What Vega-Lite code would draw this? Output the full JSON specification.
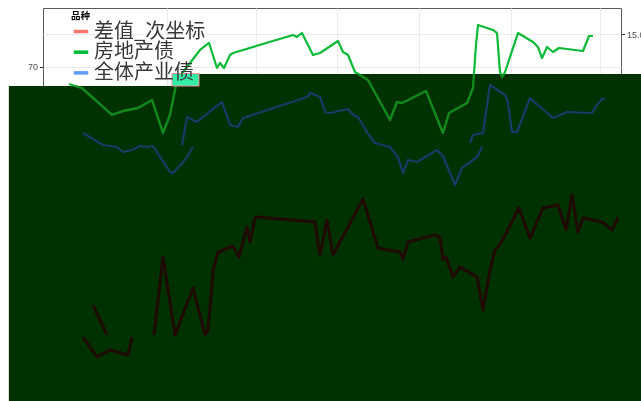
{
  "$schema": "https://vega.github.io/schema/vega-lite/v6.json",
  "width": 578,
  "height": 366,
  "autosize": {"type": "none"},
  "padding": {"left": 43, "top": 8, "right": 20, "bottom": 27},
  "background": "white",
  "config": {
    "view": {"stroke": "#5a5a5a", "strokeWidth": 1},
    "axis": {"zindex": 0, "domain": false, "labelFont": "Liberation Sans", "labelFontSize": 9, "labelColor": "#4d4d4d", "tickColor": "#333333", "tickSize": 3.5, "labelPadding": 2, "gridColor": "#ebebeb", "gridWidth": 1},
    "legend": {"orient": "none", "legendX": 28, "legendY": 3, "padding": 0, "titleFont": "Noto Sans CJK SC", "titleFontSize": 9.5, "titleFontWeight": "bold", "titleColor": "#000000", "titlePadding": 1, "labelFont": "Noto Sans CJK SC", "labelFontSize": 20, "labelColor": "#383838", "labelOffset": 3, "symbolType": "stroke", "symbolSize": 210, "symbolStrokeWidth": 3.5, "rowPadding": 0.7, "labelLimit": 400, "zindex": 1}
  },
  "datasets": {
    "lines": [
      {"品种":"房地产债","段":1,"t":0,"值":67.42},{"品种":"房地产债","段":1,"t":4.45,"值":66.82},{"品种":"房地产债","段":1,"t":14.73,"值":62.73},{"品种":"房地产债","段":1,"t":18.49,"值":63.33},{"品种":"房地产债","段":1,"t":23.63,"值":63.79},{"品种":"房地产债","段":1,"t":28.42,"值":65.0},{"品种":"房地产债","段":1,"t":32.19,"值":60.0},{"品种":"房地产债","段":1,"t":34.59,"值":62.73},{"品种":"房地产债","段":1,"t":36.99,"值":68.03},{"品种":"房地产债","段":1,"t":44.86,"值":72.58},{"品种":"房地产债","段":1,"t":47.95,"值":73.64},{"品种":"房地产债","段":1,"t":50.68,"值":69.85},{"品种":"房地产债","段":1,"t":51.71,"值":70.61},{"品种":"房地产债","段":1,"t":53.08,"值":69.85},{"品种":"房地产债","段":1,"t":55.14,"值":71.82},{"品种":"房地产债","段":1,"t":56.16,"值":72.12},{"品种":"房地产债","段":1,"t":76.71,"值":74.85},{"品种":"房地产债","段":1,"t":78.08,"值":74.55},{"品种":"房地产债","段":1,"t":79.79,"值":75.15},{"品种":"房地产债","段":1,"t":83.56,"值":71.82},{"品种":"房地产债","段":1,"t":85.96,"值":72.12},{"品种":"房地产债","段":1,"t":92.12,"值":73.94},{"品种":"房地产债","段":1,"t":93.84,"值":72.27},{"品种":"房地产债","段":1,"t":95.55,"值":71.82},{"品种":"房地产债","段":1,"t":97.95,"值":69.24},{"品种":"房地产债","段":1,"t":102.4,"值":68.03},{"品种":"房地产债","段":1,"t":109.93,"值":61.97},{"品种":"房地产债","段":1,"t":112.33,"值":64.7},{"品种":"房地产债","段":1,"t":114.04,"值":64.55},{"品种":"房地产债","段":1,"t":122.26,"值":66.36},{"品种":"房地产债","段":1,"t":128.08,"值":60.0},{"品种":"房地产债","段":1,"t":130.14,"值":63.03},{"品种":"房地产债","段":1,"t":136.3,"值":64.55},{"品种":"房地产债","段":1,"t":138.36,"值":66.82},{"品种":"房地产债","段":1,"t":139.38,"值":73.33},{"品种":"房地产债","段":1,"t":140.07,"值":76.36},{"品种":"房地产债","段":1,"t":145.21,"值":75.61},{"品种":"房地产债","段":1,"t":146.58,"值":75.15},{"品种":"房地产债","段":1,"t":147.6,"值":69.24},{"品种":"房地产债","段":1,"t":148.29,"值":68.48},{"品种":"房地产债","段":1,"t":149.32,"值":69.24},{"品种":"房地产债","段":1,"t":153.77,"值":75.15},{"品种":"房地产债","段":1,"t":158.9,"值":73.79},{"品种":"房地产债","段":1,"t":160.62,"值":73.03},{"品种":"房地产债","段":1,"t":161.99,"值":71.36},{"品种":"房地产债","段":1,"t":163.7,"值":73.03},{"品种":"房地产债","段":1,"t":165.75,"值":72.27},{"品种":"房地产债","段":1,"t":167.81,"值":72.88},{"品种":"房地产债","段":1,"t":176.03,"值":72.42},{"品种":"房地产债","段":1,"t":178.08,"值":74.7},{"品种":"房地产债","段":1,"t":179.45,"值":74.7},
      {"品种":"全体产业债","段":1,"t":4.79,"值":60.0},{"品种":"全体产业债","段":1,"t":11.64,"值":58.18},{"品种":"全体产业债","段":1,"t":16.44,"值":57.88},{"品种":"全体产业债","段":1,"t":18.49,"值":57.12},{"品种":"全体产业债","段":1,"t":21.58,"值":57.42},{"品种":"全体产业债","段":1,"t":24.32,"值":58.03},{"品种":"全体产业债","段":1,"t":26.71,"值":57.88},{"品种":"全体产业债","段":1,"t":28.77,"值":58.03},{"品种":"全体产业债","段":1,"t":34.59,"值":54.09},{"品种":"全体产业债","段":1,"t":35.62,"值":53.94},{"品种":"全体产业债","段":1,"t":39.73,"值":55.91},{"品种":"全体产业债","段":1,"t":42.47,"值":57.88},
      {"品种":"全体产业债","段":2,"t":38.7,"值":58.18},{"品种":"全体产业债","段":2,"t":40.41,"值":62.42},{"品种":"全体产业债","段":2,"t":43.84,"值":61.67},{"品种":"全体产业债","段":2,"t":52.4,"值":64.7},{"品种":"全体产业债","段":2,"t":55.14,"值":61.21},{"品种":"全体产业债","段":2,"t":57.88,"值":60.91},{"品种":"全体产业债","段":2,"t":59.59,"值":62.27},{"品种":"全体产业债","段":2,"t":81.51,"值":65.45},{"品种":"全体产业债","段":2,"t":82.53,"值":66.06},{"品种":"全体产业债","段":2,"t":85.96,"值":65.45},{"品种":"全体产业债","段":2,"t":87.67,"值":63.18},{"品种":"全体产业债","段":2,"t":89.38,"值":63.03},{"品种":"全体产业债","段":2,"t":95.55,"值":63.64},{"品种":"全体产业债","段":2,"t":97.26,"值":62.73},{"品种":"全体产业债","段":2,"t":98.97,"值":62.42},{"品种":"全体产业债","段":2,"t":102.05,"值":60.15},{"品种":"全体产业债","段":2,"t":104.79,"值":58.48},{"品种":"全体产业债","段":2,"t":109.93,"值":57.88},{"品种":"全体产业债","段":2,"t":112.67,"值":56.36},{"品种":"全体产业债","段":2,"t":114.38,"值":53.94},{"品种":"全体产业债","段":2,"t":116.1,"值":55.91},{"品种":"全体产业债","段":2,"t":119.18,"值":55.61},{"品种":"全体产业债","段":2,"t":126.03,"值":57.42},{"品种":"全体产业债","段":2,"t":128.08,"值":56.52},{"品种":"全体产业债","段":2,"t":132.19,"值":52.12},{"品种":"全体产业债","段":2,"t":134.59,"值":54.7},{"品种":"全体产业债","段":2,"t":139.73,"值":56.36},{"品种":"全体产业债","段":2,"t":141.44,"值":57.88},
      {"品种":"全体产业债","段":3,"t":137.33,"值":58.48},{"品种":"全体产业债","段":3,"t":138.36,"值":59.7},{"品种":"全体产业债","段":3,"t":141.78,"值":60.0},{"品种":"全体产业债","段":3,"t":144.18,"值":67.27},{"品种":"全体产业债","段":3,"t":149.32,"值":65.76},{"品种":"全体产业债","段":3,"t":150.34,"值":64.55},{"品种":"全体产业债","段":3,"t":151.71,"值":60.15},{"品种":"全体产业债","段":3,"t":153.42,"值":60.15},{"品种":"全体产业债","段":3,"t":157.88,"值":65.3},{"品种":"全体产业债","段":3,"t":161.3,"值":63.94},{"品种":"全体产业债","段":3,"t":165.75,"值":62.27},{"品种":"全体产业债","段":3,"t":170.55,"值":63.18},{"品种":"全体产业债","段":3,"t":179.11,"值":63.03},{"品种":"全体产业债","段":3,"t":180.82,"值":64.24},{"品种":"全体产业债","段":3,"t":182.53,"值":65.15},{"品种":"全体产业债","段":3,"t":183.56,"值":65.15},
      {"品种":"差值_次坐标","段":1,"t":8.22,"值":4.73},{"品种":"差值_次坐标","段":1,"t":13.01,"值":3.6},
      {"品种":"差值_次坐标","段":2,"t":4.79,"值":3.52},{"品种":"差值_次坐标","段":2,"t":9.59,"值":2.77},{"品种":"差值_次坐标","段":2,"t":14.04,"值":3.03},{"品种":"差值_次坐标","段":2,"t":20.21,"值":2.84},{"品种":"差值_次坐标","段":2,"t":21.58,"值":3.52},
      {"品种":"差值_次坐标","段":3,"t":29.11,"值":3.6},{"品种":"差值_次坐标","段":3,"t":32.19,"值":6.55},{"品种":"差值_次坐标","段":3,"t":36.3,"值":3.6},{"品种":"差值_次坐标","段":3,"t":42.47,"值":5.38},{"品种":"差值_次坐标","段":3,"t":46.58,"值":3.6},{"品种":"差值_次坐标","段":3,"t":47.6,"值":3.79},{"品种":"差值_次坐标","段":3,"t":49.42,"值":6.06},{"品种":"差值_次坐标","段":3,"t":51.03,"值":6.74},{"品种":"差值_次坐标","段":3,"t":56.16,"值":6.97},{"品种":"差值_次坐标","段":3,"t":58.22,"值":6.55},{"品种":"差值_次坐标","段":3,"t":60.96,"值":7.69},{"品种":"差值_次坐标","段":3,"t":61.99,"值":7.12},{"品种":"差值_次坐标","段":3,"t":63.7,"值":8.03},{"品种":"差值_次坐标","段":3,"t":64.38,"值":8.07},{"品种":"差值_次坐标","段":3,"t":84.25,"值":7.88},{"品种":"差值_次坐标","段":3,"t":85.27,"值":7.08},{"品种":"差值_次坐标","段":3,"t":85.96,"值":6.63},{"品种":"差值_次坐标","段":3,"t":88.36,"值":7.95},{"品种":"差值_次坐标","段":3,"t":90.41,"值":6.63},{"品种":"差值_次坐标","段":3,"t":100.68,"值":8.75},{"品种":"差值_次坐标","段":3,"t":105.82,"值":6.89},{"品种":"差值_次坐标","段":3,"t":113.36,"值":6.74},{"品种":"差值_次坐标","段":3,"t":114.38,"值":6.48},{"品种":"差值_次坐标","段":3,"t":116.1,"值":7.12},{"品种":"差值_次坐标","段":3,"t":125.34,"值":7.39},{"品种":"差值_次坐标","段":3,"t":127.05,"值":7.31},{"品种":"差值_次坐标","段":3,"t":128.08,"值":6.44},{"品种":"差值_次坐标","段":3,"t":129.11,"值":6.55},{"品种":"差值_次坐标","段":3,"t":131.51,"值":5.8},{"品种":"差值_次坐标","段":3,"t":133.9,"值":6.17},{"品种":"差值_次坐标","段":3,"t":139.73,"值":5.8},{"品种":"差值_次坐标","段":3,"t":141.78,"值":4.55},{"品种":"差值_次坐标","段":3,"t":144.18,"值":6.06},{"品种":"差值_次坐标","段":3,"t":145.89,"值":6.82},{"品种":"差值_次坐标","段":3,"t":147.6,"值":7.01},{"品种":"差值_次坐标","段":3,"t":154.11,"值":8.41},{"品种":"差值_次坐标","段":3,"t":157.88,"值":7.27},{"品种":"差值_次坐标","段":3,"t":162.33,"值":8.41},{"品种":"差值_次坐标","段":3,"t":167.47,"值":8.52},{"品种":"差值_次坐标","段":3,"t":170.21,"值":7.58},{"品种":"差值_次坐标","段":3,"t":172.26,"值":8.9},{"品种":"差值_次坐标","段":3,"t":174.32,"值":7.5},{"品种":"差值_次坐标","段":3,"t":176.03,"值":8.03},{"品种":"差值_次坐标","段":3,"t":182.53,"值":7.88},{"品种":"差值_次坐标","段":3,"t":185.96,"值":7.58},{"品种":"差值_次坐标","段":3,"t":188.01,"值":8.03}
    ],
    "overlay": [
      {"x1": -20.6, "x2": 44.52, "y1": 19, "y2": 67.12},
      {"x1": 44.52, "x2": 195.9, "y1": 19, "y2": 68.94}
    ],
    "glitch": [
      {"x1": 35.27, "x2": 44.52, "y1": 67.12, "y2": 69.0}
    ]
  },
  "layer": [
    {
      "data": {"name": "lines"},
      "transform": [{"filter": "datum['品种'] !== '差值_次坐标'"}],
      "mark": {"type": "line", "strokeWidth": 2.2, "strokeJoin": "round"},
      "encoding": {
        "x": {"field": "t", "type": "quantitative", "scale": {"domain": [-8.9, 189.04], "nice": false, "zero": false}, "axis": {"title": null, "values": [33.6, 64, 91.8, 119.9, 151.4, 181.8], "format": ".0f", "grid": true}},
        "y": {"field": "值", "type": "quantitative", "scale": {"domain": [23.48, 78.94], "nice": false, "zero": false}, "axis": {"orient": "left", "title": null, "grid": true, "values": [25, 30, 35, 40, 45, 50, 55, 60, 65, 70, 75], "labelExpr": "datum.value % 10 === 0 ? datum.label : ''", "tickColor": {"condition": {"test": "datum.value % 10 !== 0", "value": "transparent"}, "value": "#333333"}}},
        "color": {"field": "品种", "type": "nominal", "scale": {"domain": ["差值_次坐标", "房地产债", "全体产业债"], "range": ["#F8766D", "#00BA38", "#619CFF"]}, "legend": {"title": "品种"}},
        "detail": {"field": "段"}
      }
    },
    {
      "data": {"name": "lines"},
      "transform": [{"filter": "datum['品种'] === '差值_次坐标'"}],
      "mark": {"type": "line", "strokeWidth": 2.2, "strokeJoin": "round"},
      "encoding": {
        "x": {"field": "t", "type": "quantitative", "scale": {"domain": [-8.9, 189.04], "nice": false, "zero": false}},
        "y": {"field": "值", "type": "quantitative", "scale": {"domain": [2.121, 15.985], "nice": false, "zero": false}, "axis": {"orient": "right", "title": null, "grid": false, "values": [15], "format": ".1f"}},
        "color": {"field": "品种", "type": "nominal", "scale": {"domain": ["差值_次坐标", "房地产债", "全体产业债"], "range": ["#F8766D", "#00BA38", "#619CFF"]}, "legend": {"title": "品种"}},
        "detail": {"field": "段"}
      }
    },
    {
      "data": {"name": "overlay"},
      "mark": {"type": "rect", "color": "#003100"},
      "encoding": {
        "x": {"field": "x1", "type": "quantitative", "scale": {"domain": [-8.9, 189.04], "nice": false, "zero": false}},
        "x2": {"field": "x2"},
        "y": {"field": "y1", "type": "quantitative", "scale": {"domain": [23.48, 78.94], "nice": false, "zero": false}, "axis": null},
        "y2": {"field": "y2"}
      }
    },
    {
      "data": {"name": "glitch"},
      "mark": {"type": "rect", "color": "#35eea5", "stroke": "#f58aa0", "strokeWidth": 1},
      "encoding": {
        "x": {"field": "x1", "type": "quantitative", "scale": {"domain": [-8.9, 189.04], "nice": false, "zero": false}},
        "x2": {"field": "x2"},
        "y": {"field": "y1", "type": "quantitative", "scale": {"domain": [23.48, 78.94], "nice": false, "zero": false}, "axis": null},
        "y2": {"field": "y2"}
      }
    },
    {
      "data": {"name": "lines"},
      "transform": [{"filter": "datum['品种'] === '房地产债'"}],
      "mark": {"type": "line", "color": "#138a1e", "strokeWidth": 2.4, "strokeJoin": "round", "blend": "lighten"},
      "encoding": {
        "x": {"field": "t", "type": "quantitative", "scale": {"domain": [-8.9, 189.04], "nice": false, "zero": false}},
        "y": {"field": "值", "type": "quantitative", "scale": {"domain": [23.48, 78.94], "nice": false, "zero": false}, "axis": null},
        "detail": {"field": "段"}
      }
    },
    {
      "data": {"name": "lines"},
      "transform": [{"filter": "datum['品种'] === '全体产业债'"}],
      "mark": {"type": "line", "color": "#143d68", "strokeWidth": 2.2, "strokeJoin": "round", "blend": "lighten"},
      "encoding": {
        "x": {"field": "t", "type": "quantitative", "scale": {"domain": [-8.9, 189.04], "nice": false, "zero": false}},
        "y": {"field": "值", "type": "quantitative", "scale": {"domain": [23.48, 78.94], "nice": false, "zero": false}, "axis": null},
        "detail": {"field": "段"}
      }
    },
    {
      "data": {"name": "lines"},
      "transform": [{"filter": "datum['品种'] === '差值_次坐标'"}],
      "mark": {"type": "line", "color": "#1f0a04", "strokeWidth": 3, "strokeJoin": "round"},
      "encoding": {
        "x": {"field": "t", "type": "quantitative", "scale": {"domain": [-8.9, 189.04], "nice": false, "zero": false}},
        "y": {"field": "值", "type": "quantitative", "scale": {"domain": [2.121, 15.985], "nice": false, "zero": false}, "axis": null},
        "detail": {"field": "段"}
      }
    }
  ],
  "resolve": {"scale": {"y": "independent"}, "axis": {"y": "independent"}}
}
